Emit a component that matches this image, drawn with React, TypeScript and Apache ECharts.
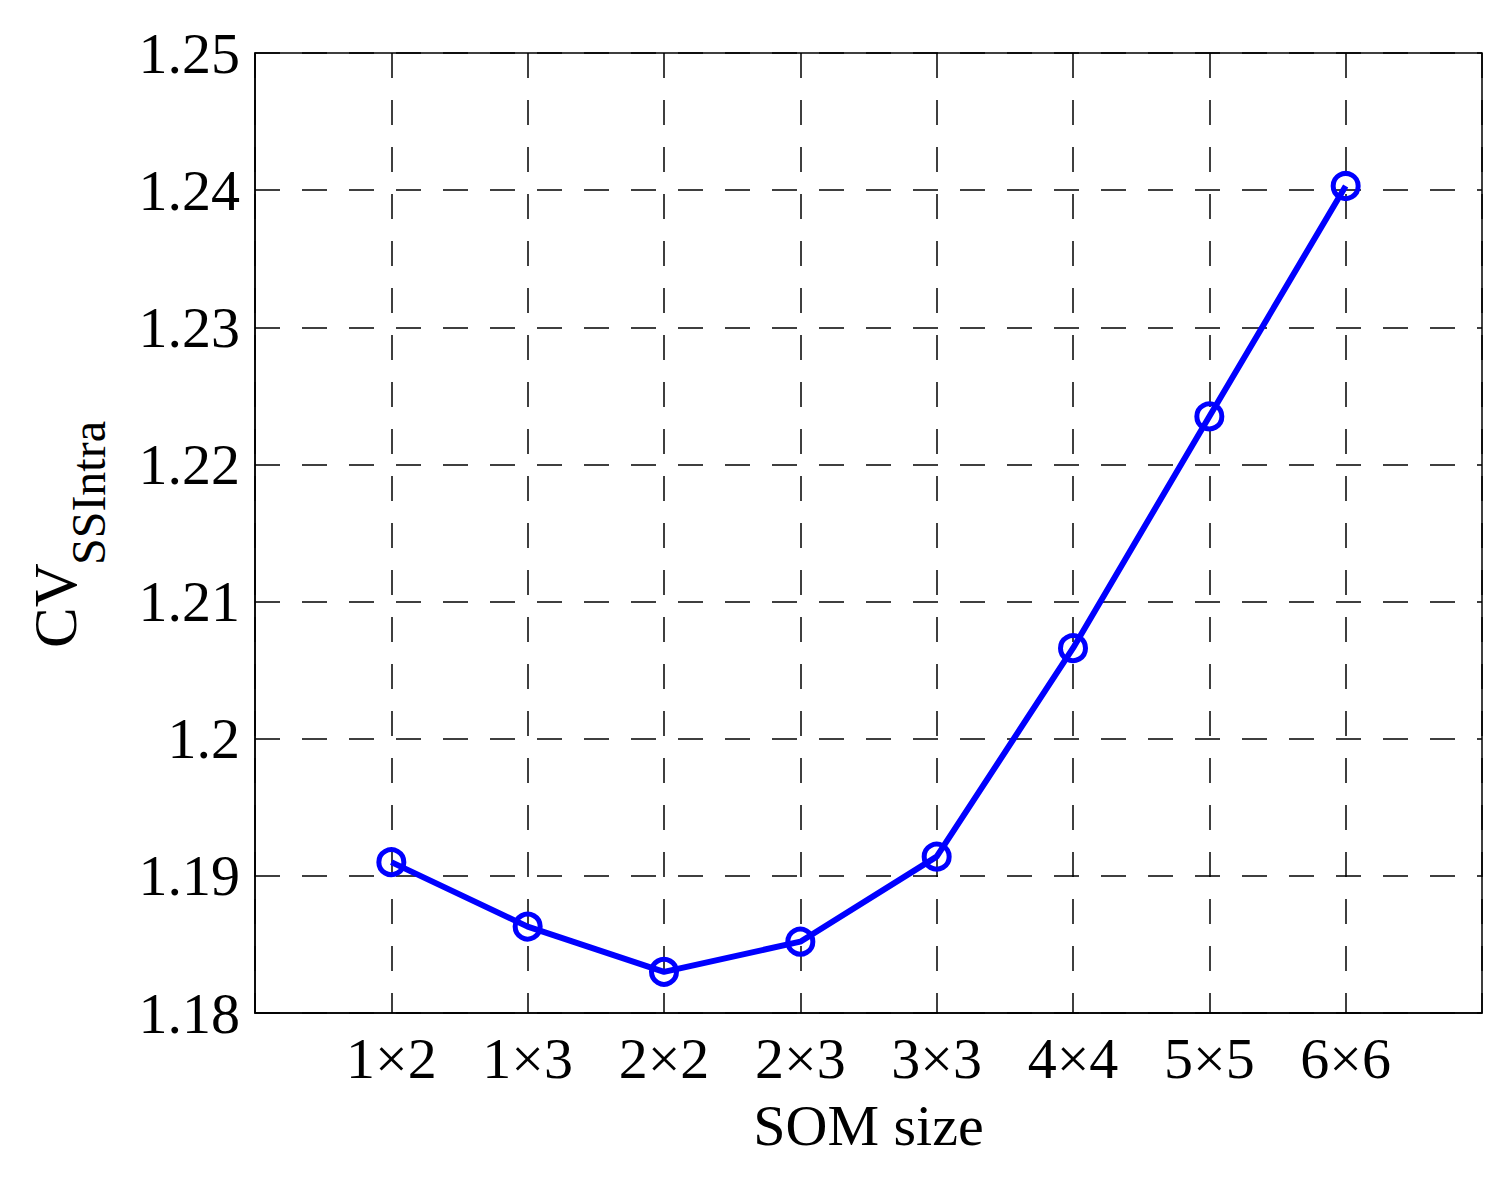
import React, { useEffect, useRef } from "react";
import * as echarts from "echarts";

const categories = ["1×2", "1×3", "2×2", "2×3", "3×3", "4×4", "5×5", "6×6"];
const cvValues = [1.191, 1.1863, 1.183, 1.1852, 1.1914, 1.2066, 1.2235, 1.2403];
const yTicks = [1.18, 1.19, 1.2, 1.21, 1.22, 1.23, 1.24, 1.25];

const FONT = "'Liberation Serif', 'Times New Roman', serif";

export default function App() {
  const ref = useRef<HTMLDivElement>(null);
  useEffect(() => {
    if (!ref.current) return;
    const chart = echarts.init(ref.current, null, { renderer: "svg" });
    const data = cvValues.map((v, i) => [i + 1, v]);
    const dashed = { color: "#000", width: 1.5, type: [25, 22] as any };
    chart.setOption({
      animation: false,
      backgroundColor: "#fff",
      grid: {
        left: 255,
        top: 53,
        right: 29,
        bottom: 167,
        show: true,
        borderColor: "#000",
        borderWidth: 1.5,
        containLabel: false,
      },
      xAxis: {
        type: "value",
        min: 0,
        max: 9,
        interval: 1,
        name: "SOM size",
        nameLocation: "middle",
        nameGap: 83,
        nameTextStyle: { fontFamily: FONT, fontSize: 58, color: "#000" },
        axisLine: { show: true, lineStyle: { color: "#000", width: 1.5 } },
        axisTick: { show: false },
        axisLabel: {
          fontFamily: FONT,
          fontSize: 58,
          color: "#000",
          margin: 16,
          formatter: (v: number) => (v >= 1 && v <= categories.length ? categories[v - 1] : ""),
        },
        splitLine: { show: true, lineStyle: dashed },
      },
      yAxis: {
        type: "value",
        min: yTicks[0],
        max: yTicks[yTicks.length - 1],
        interval: 0.01,
        axisLine: { show: true, lineStyle: { color: "#000", width: 1.5 } },
        axisTick: { show: false },
        axisLabel: {
          fontFamily: FONT,
          fontSize: 58,
          color: "#000",
          margin: 15,
          formatter: (v: number) => String(Math.round(v * 100) / 100),
        },
        splitLine: { show: true, lineStyle: dashed },
      },
      graphic: [
        {
          type: "group",
          x: 55,
          y: 648,
          rotation: Math.PI / 2,
          children: [
            {
              type: "text",
              x: 0,
              y: 0,
              style: {
                text: "CV",
                fontFamily: FONT,
                fontSize: 61,
                fill: "#000",
                textVerticalAlign: "middle",
                textAlign: "left",
              },
            },
            {
              type: "text",
              x: 83,
              y: 33,
              style: {
                text: "SSIntra",
                fontFamily: FONT,
                fontSize: 48,
                fill: "#000",
                textVerticalAlign: "middle",
                textAlign: "left",
              },
            },
          ],
        },
      ],
      series: [
        {
          type: "line",
          data,
          symbol: "circle",
          symbolSize: 25,
          showAllSymbol: true,
          lineStyle: { color: "#0000FF", width: 6 },
          itemStyle: { color: "rgba(0,0,0,0)", borderColor: "#0000FF", borderWidth: 5 },
          z: 5,
        },
      ],
    });
    return () => chart.dispose();
  }, []);
  return (
    <div
      ref={ref}
      style={{ position: "fixed", left: 0, top: 0, width: 1511, height: 1180 }}
    />
  );
}
